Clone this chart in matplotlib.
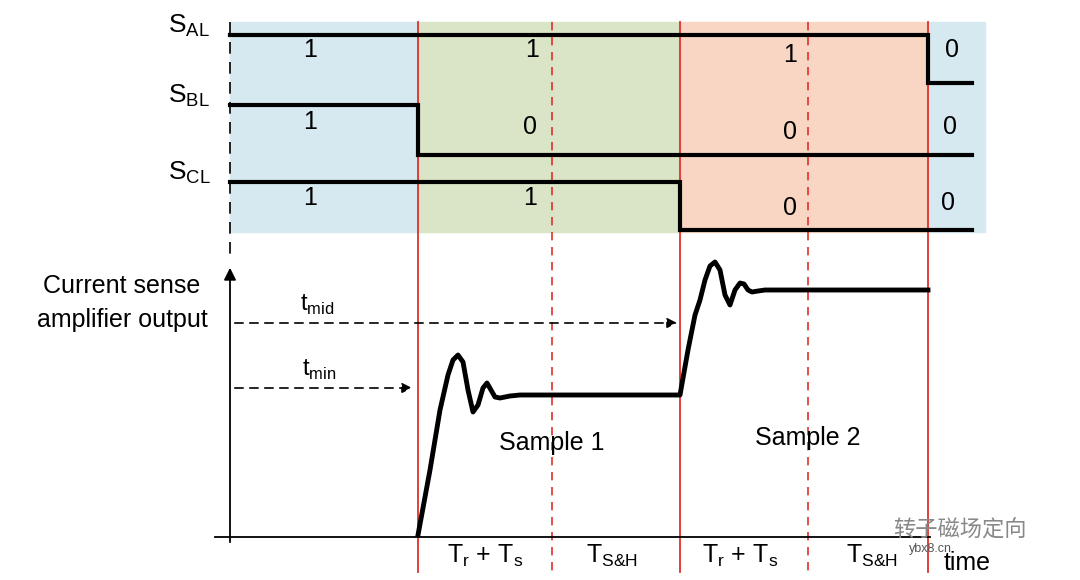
import matplotlib.pyplot as plt
import numpy as np
from matplotlib.patches import Rectangle

plt.rcParams['font.family'] = ['Liberation Sans', 'DejaVu Sans']

# region boundaries (pixel x) and colours
region_x = [230, 418, 680, 928, 985]
region_colors = ['#d6e9f0', '#d9e5c6', '#f9d5c3', '#d6e9f0']
red_solid = [418, 680, 928]
red_dashed = [552, 808]

# switch signals: (label, y_high, y_low, switch_x)
signals = [('AL', 35, 83, 928), ('BL', 105, 155, 418), ('CL', 182, 230, 680)]
sig_values = [
    [(310, 50, '1'), (532, 50, '1'), (790, 55, '1'), (952, 50, '0')],
    [(310, 122, '1'), (530, 127, '0'), (790, 132, '0'), (950, 127, '0')],
    [(310, 198, '1'), (530, 198, '1'), (790, 208, '0'), (948, 203, '0')],
]

# output curve points
curve_x = [418, 430, 440, 448, 453, 458, 463, 468, 473, 478, 483, 487, 491, 495, 500, 510, 520, 680,
           688, 695, 700, 705, 710, 715, 720, 725, 730, 735, 740, 744, 748, 752, 758, 765, 928]
curve_y = [535, 470, 410, 375, 360, 355, 362, 390, 412, 405, 388, 383, 390, 397, 398, 396, 395, 395,
           350, 315, 300, 280, 266, 262, 270, 295, 305, 290, 283, 284, 290, 292, 291, 290, 290]

fig = plt.figure(figsize=(10.8, 5.8), dpi=100)
ax = fig.add_axes([0, 0, 1, 1])
ax.set_xlim(0, 1080)
ax.set_ylim(580, 0)
ax.axis('off')

for i, c in enumerate(region_colors):
    ax.add_patch(Rectangle((region_x[i], 22), region_x[i+1]-region_x[i], 210, color=c, zorder=0))

for x in red_solid:
    ax.plot([x, x], [22, 572], color='#e0302a', lw=1.3, zorder=1)
for x in red_dashed:
    ax.plot([x, x], [22, 572], color='#e0302a', lw=1.2, ls=(0, (5, 4)), zorder=1)

ax.plot([230, 230], [22, 255], color='black', lw=1.2, ls=(0, (7, 5)))

for (lab, yh, yl, sx), vals in zip(signals, sig_values):
    ax.plot([230, sx, sx, 972], [yh, yh, yl, yl], color='black', lw=3, solid_joinstyle='miter')
    ax.text(168, yh + 4, 'S$_{\\mathregular{' + lab + '}}$', fontsize=19, va='bottom', ha='left')
    for x, y, t in vals:
        ax.text(x, y, t, fontsize=18, ha='center', va='center')

# axes
ax.annotate('', xy=(230, 265), xytext=(230, 545),
            arrowprops=dict(arrowstyle='-|>', color='black', lw=1.3, mutation_scale=18))
ax.plot([215, 930], [537, 537], color='black', lw=1.3)

ax.plot(curve_x, curve_y, color='black', lw=3.5, solid_joinstyle='round')

for y, xe, lab, lx in [(323, 680, 't$_{\\mathregular{mid}}$', 300), (388, 415, 't$_{\\mathregular{min}}$', 302)]:
    ax.annotate('', xy=(xe, y), xytext=(232, y),
                arrowprops=dict(arrowstyle='-|>', color='black', lw=1.2, ls=(0, (5, 4)), mutation_scale=15))
    ax.text(lx, y - 6, lab, fontsize=17, va='bottom')

ax.text(122, 286, 'Current sense', fontsize=18, ha='center', va='center')
ax.text(122, 320, 'amplifier output', fontsize=18, ha='center', va='center')
ax.text(552, 443, 'Sample 1', fontsize=18, ha='center', va='center')
ax.text(808, 438, 'Sample 2', fontsize=18, ha='center', va='center')
ax.text(485, 556, 'T$_{\\mathregular{r}}$ + T$_{\\mathregular{s}}$', fontsize=18, ha='center', va='center')
ax.text(612, 556, 'T$_{\\mathregular{S&H}}$', fontsize=18, ha='center', va='center')
ax.text(740, 556, 'T$_{\\mathregular{r}}$ + T$_{\\mathregular{s}}$', fontsize=18, ha='center', va='center')
ax.text(872, 556, 'T$_{\\mathregular{S&H}}$', fontsize=18, ha='center', va='center')
ax.text(967, 563, 'time', fontsize=18, ha='center', va='center')

ax.text(960, 530, '转子磁场定向', fontsize=16, color='#888888', ha='center', va='center',
        family=['Noto Sans CJK SC', 'DejaVu Sans'])
ax.text(930, 549, 'ybx8.cn', fontsize=9, color='#555555', ha='center', va='center')

fig.savefig('out.png', dpi=100)
